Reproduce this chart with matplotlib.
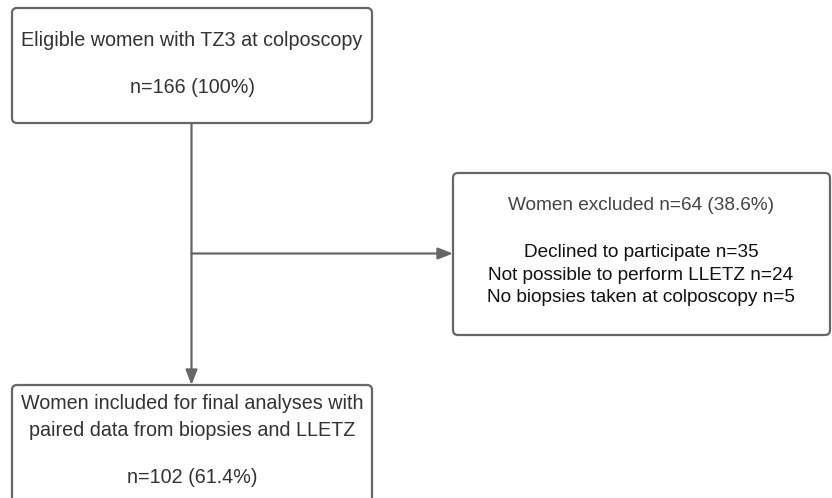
import matplotlib.pyplot as plt
from matplotlib.patches import FancyBboxPatch

plt.rcParams['font.family'] = ['Liberation Sans', 'DejaVu Sans']

# Box texts
top_lines = ["Eligible women with TZ3 at colposcopy", "", "n=166 (100%)"]
excl_lines = ["Women excluded n=64 (38.6%)", "",
              "Declined to participate n=35",
              "Not possible to perform LLETZ n=24",
              "No biopsies taken at colposcopy n=5"]
incl_lines = ["Women included for final analyses with",
              "paired data from biopsies and LLETZ", "",
              "n=102 (61.4%)"]

edge = '#666666'
txt = '#333333'

fig = plt.figure(figsize=(8.32, 4.98), dpi=100)
ax = fig.add_axes([0, 0, 1, 1])
ax.set_xlim(0, 832)
ax.set_ylim(498, 0)
ax.axis('off')


def box(x0, y0, x1, y1):
    p = FancyBboxPatch((x0, y0), x1 - x0, y1 - y0,
                       boxstyle='round,pad=0,rounding_size=5',
                       fc='white', ec=edge, lw=1.6, zorder=2)
    ax.add_patch(p)


def lines(xc, ys, texts, colors=None, size=14):
    for i, (y, t) in enumerate(zip(ys, texts)):
        if not t:
            continue
        c = colors[i] if colors else txt
        ax.text(xc, y, t, ha='center', va='center', fontsize=size, color=c, zorder=3)


arrow = dict(arrowstyle='-|>,head_length=0.9,head_width=0.35',
             color=edge, lw=1.6, shrinkA=0, shrinkB=0)
# connectors
ax.annotate('', xy=(191.5, 385), xytext=(191.5, 123), arrowprops=arrow)
ax.annotate('', xy=(453, 253.5), xytext=(191.5, 253.5), arrowprops=arrow)

box(12, 8, 372, 123)
lines(192, [40, 63, 87], top_lines, size=14.2)

box(453, 173, 830, 335)
lines(641, [205, 228, 252, 275, 297], excl_lines,
      colors=['#444444', txt, '#111111', '#111111', '#111111'], size=13.7)

box(12, 385, 372, 505)
lines(192, [403, 430, 453, 477], incl_lines, size=14.2)

fig.savefig('out.png', dpi=100)
